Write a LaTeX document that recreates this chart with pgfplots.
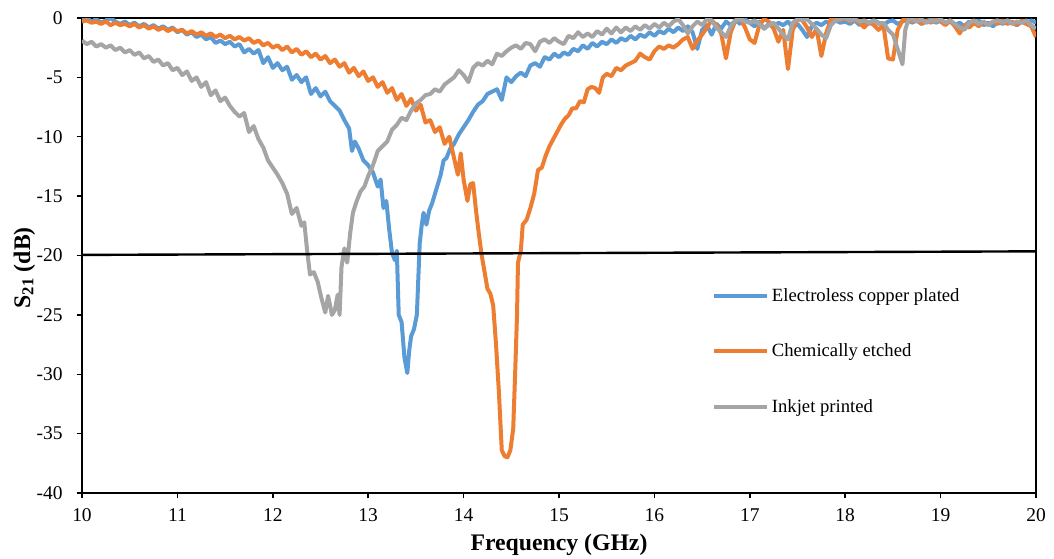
\documentclass[border=0pt]{standalone}
\usepackage{fontspec}
\setmainfont{Liberation Serif}
\usepackage{pgfplots}
\pgfplotsset{compat=1.18}
\definecolor{cblue}{HTML}{5B9BD5}
\definecolor{corange}{HTML}{ED7D31}
\definecolor{cgray}{HTML}{A5A5A5}
\begin{document}
\begin{tikzpicture}
\begin{axis}[
  anchor=south west, at={(0pt,0pt)},
  scale only axis,
  width=715.5pt, height=356.25pt,
  xmin=10, xmax=20, ymin=-40, ymax=0,
  xtick={10,11,...,20},
  xticklabels={10,11,12,13,14,15,16,17,18,19,20},
  ytick={-40,-35,...,0},
  yticklabels={-40,-35,-30,-25,-20,-15,-10,-5,0},
  xtick pos=bottom, ytick pos=left,
  tick align=outside,
  major tick length=4pt,
  tick style={black, line width=1.1pt},
  axis line style={black, line width=1.5pt},
  ticklabel style={font=\fontsize{14.6}{16}\selectfont},
  xticklabel style={yshift=-4pt},
  yticklabel style={xshift=-7pt},
  xlabel={\textbf{Frequency (GHz)}},
  ylabel={\textbf{S\textsubscript{21} (dB)}},
  label style={font=\fontsize{17.8}{20}\selectfont},
  xlabel style={at={(axis description cs:0.5,0)}, anchor=base, yshift=-42.75pt},
  ylabel style={at={(axis description cs:-0.0545,0.474)}, anchor=base},
  legend style={at={(0.66,0.437)}, anchor=north west, draw=none, fill=none,
    font=\fontsize{14}{16}\selectfont, row sep=26.4pt, inner sep=0pt},
  legend cell align=left,
  legend image code/.code={\draw[#1] (0pt,0pt) -- (40pt,0pt);},
  every axis plot/.append style={line width=3pt, line join=round},
]
\addplot[cblue] table {
10.00 -0.1
10.05 0.0
10.10 -0.3
10.15 -0.1
10.20 -0.4
10.25 -0.2
10.30 0.0
10.35 -0.3
10.40 -0.5
10.45 -0.3
10.50 -0.6
10.55 -0.4
10.60 -0.7
10.65 -0.5
10.70 -0.8
10.75 -0.6
10.80 -0.9
10.85 -0.7
10.90 -1.0
10.95 -0.8
11.00 -1.2
11.05 -1.0
11.10 -1.4
11.15 -1.2
11.20 -1.6
11.25 -1.4
11.30 -1.8
11.35 -1.6
11.40 -2.1
11.45 -1.9
11.50 -2.2
11.55 -2.0
11.60 -2.4
11.65 -2.2
11.70 -2.9
11.75 -2.6
11.80 -3.0
11.85 -2.7
11.90 -3.8
11.95 -3.3
12.00 -4.2
12.05 -3.8
12.10 -4.4
12.15 -4.1
12.20 -5.2
12.25 -4.8
12.30 -5.4
12.35 -5.0
12.40 -6.4
12.45 -5.9
12.50 -6.6
12.55 -6.2
12.60 -7.0
12.65 -7.4
12.70 -7.8
12.75 -8.6
12.80 -9.3
12.83 -11.2
12.86 -10.4
12.90 -11.0
12.95 -12.0
13.00 -12.4
13.05 -13.0
13.10 -14.2
13.13 -13.6
13.16 -16.0
13.19 -15.4
13.22 -17.8
13.25 -19.8
13.28 -20.4
13.30 -19.6
13.32 -25.0
13.35 -25.6
13.38 -28.6
13.41 -29.9
13.43 -28.0
13.45 -26.8
13.48 -26.2
13.51 -25.0
13.54 -19.0
13.56 -17.5
13.58 -16.4
13.61 -17.4
13.64 -16.2
13.67 -15.6
13.70 -14.8
13.73 -14.0
13.76 -13.2
13.79 -12.0
13.82 -11.8
13.86 -11.0
13.90 -10.6
13.95 -9.8
14.00 -9.2
14.05 -8.6
14.10 -7.9
14.15 -7.3
14.20 -7.0
14.25 -6.4
14.30 -6.2
14.35 -6.0
14.40 -6.9
14.45 -5.0
14.50 -5.4
14.55 -4.9
14.60 -4.6
14.65 -4.9
14.70 -4.0
14.75 -3.8
14.80 -4.1
14.85 -3.3
14.90 -3.5
14.95 -3.0
15.00 -3.3
15.05 -2.9
15.10 -3.1
15.15 -2.6
15.20 -2.8
15.25 -2.3
15.30 -2.6
15.35 -2.1
15.40 -2.4
15.45 -2.0
15.50 -2.2
15.55 -1.8
15.60 -2.1
15.65 -1.7
15.70 -1.9
15.75 -1.5
15.80 -1.8
15.85 -1.4
15.90 -1.6
15.95 -1.2
16.00 -1.5
16.05 -1.1
16.10 -1.3
16.15 -0.9
16.20 -1.2
16.25 -0.8
16.30 -1.1
16.35 -0.7
16.40 -1.2
16.45 -2.6
16.50 -1.0
16.55 -0.6
16.60 -1.4
16.65 -0.5
16.70 -0.9
16.75 -0.3
16.80 -0.6
16.85 -0.2
16.90 -0.5
16.95 -0.1
17.00 -0.4
17.05 -0.7
17.10 -0.3
17.15 -0.9
17.20 -0.5
17.25 -0.8
17.30 -0.4
17.35 -0.6
17.40 -0.3
17.45 -0.8
17.50 -0.5
17.55 -1.0
17.60 -1.6
17.65 -0.7
17.70 -0.4
17.75 -0.6
17.80 -0.3
17.85 -0.5
17.90 -0.2
17.95 -0.4
18.00 -0.3
18.05 -0.5
18.10 -0.2
18.15 -0.6
18.20 -0.3
18.25 -0.5
18.30 -0.2
18.35 -0.4
18.40 -0.6
18.45 -0.3
18.50 -0.2
18.55 -0.5
18.60 -0.3
18.65 -0.1
18.70 -0.4
18.75 -0.2
18.80 -0.5
18.85 -0.3
18.90 -0.1
18.95 -0.4
19.00 -0.2
19.05 -0.5
19.10 -0.3
19.15 -0.6
19.20 -0.4
19.25 -0.7
19.30 -0.3
19.35 -0.5
19.40 -0.2
19.45 -0.6
19.50 -0.4
19.55 -0.7
19.60 -0.3
19.65 -0.5
19.70 -0.2
19.75 -0.4
19.80 -0.6
19.85 -0.3
19.90 -0.5
19.95 -0.2
20.00 -0.4
};
\addlegendentry{Electroless copper plated}
\addplot[corange] table {
10.00 -0.3
10.05 -0.2
10.10 -0.4
10.15 -0.3
10.20 -0.5
10.25 -0.3
10.30 -0.6
10.35 -0.4
10.40 -0.6
10.45 -0.5
10.50 -0.7
10.55 -0.5
10.60 -0.8
10.65 -0.6
10.70 -0.9
10.75 -0.7
10.80 -1.0
10.85 -0.8
10.90 -1.1
10.95 -0.9
11.00 -1.1
11.05 -1.0
11.10 -1.3
11.15 -1.1
11.20 -1.4
11.25 -1.2
11.30 -1.5
11.35 -1.3
11.40 -1.6
11.45 -1.4
11.50 -1.7
11.55 -1.5
11.60 -1.8
11.65 -1.6
11.70 -1.9
11.75 -1.7
11.80 -2.1
11.85 -1.9
11.90 -2.3
11.95 -2.1
12.00 -2.5
12.05 -2.3
12.10 -2.7
12.15 -2.4
12.20 -2.9
12.25 -2.6
12.30 -3.1
12.35 -2.8
12.40 -3.3
12.45 -3.0
12.50 -3.5
12.55 -3.2
12.60 -3.8
12.65 -3.5
12.70 -4.1
12.75 -3.8
12.80 -4.6
12.85 -4.2
12.90 -4.9
12.95 -4.5
13.00 -5.3
13.05 -5.0
13.10 -5.8
13.15 -5.4
13.20 -6.3
13.25 -5.9
13.30 -6.9
13.35 -6.4
13.40 -7.4
13.45 -6.8
13.50 -7.8
13.55 -7.3
13.60 -8.8
13.65 -8.6
13.70 -9.6
13.75 -9.2
13.80 -10.6
13.85 -10.0
13.90 -11.8
13.94 -13.2
13.97 -11.4
14.00 -13.6
14.04 -15.4
14.07 -14.0
14.10 -13.9
14.13 -16.2
14.16 -18.2
14.19 -20.0
14.22 -21.4
14.25 -22.8
14.28 -23.2
14.31 -24.2
14.34 -27.5
14.37 -31.5
14.40 -36.4
14.43 -36.9
14.46 -37.0
14.49 -36.4
14.52 -34.6
14.54 -30.0
14.56 -25.0
14.57 -20.6
14.60 -19.6
14.62 -17.4
14.66 -17.0
14.70 -16.0
14.74 -14.8
14.78 -12.8
14.82 -12.6
14.86 -11.6
14.90 -10.8
14.94 -10.2
14.98 -9.6
15.02 -9.0
15.06 -8.5
15.10 -8.2
15.14 -7.6
15.18 -7.6
15.22 -7.0
15.26 -7.1
15.30 -6.0
15.34 -5.8
15.38 -5.9
15.42 -6.3
15.46 -5.0
15.50 -4.7
15.55 -4.9
15.60 -4.2
15.65 -4.4
15.70 -4.0
15.75 -3.8
15.80 -3.6
15.85 -3.0
15.90 -3.3
15.95 -3.5
16.00 -2.8
16.05 -2.4
16.10 -2.6
16.15 -2.3
16.20 -2.5
16.25 -2.2
16.30 -1.8
16.35 -1.6
16.40 -2.6
16.45 -1.9
16.50 -1.4
16.55 -0.8
16.60 -0.2
16.65 -0.6
16.70 -1.3
16.75 -3.4
16.80 -1.2
16.85 -0.2
16.90 0.0
16.95 -0.8
17.00 -1.8
17.05 -2.1
17.10 -0.6
17.15 -0.1
17.20 -0.3
17.25 -0.9
17.30 -2.0
17.35 -1.0
17.40 -4.3
17.45 -1.0
17.50 -0.1
17.55 -0.2
17.60 -0.8
17.65 -1.6
17.70 -0.9
17.75 -3.2
17.80 -1.3
17.85 -0.1
17.90 0.0
17.95 -0.2
18.00 0.0
18.05 -0.3
18.10 -0.1
18.15 -0.4
18.20 -0.8
18.25 -0.3
18.30 -0.6
18.35 -1.0
18.40 -0.6
18.45 -3.4
18.50 -3.5
18.55 -1.0
18.60 -0.2
18.65 0.0
18.70 -0.3
18.75 -0.1
18.80 -0.5
18.85 -0.2
18.90 -0.4
18.95 -0.1
19.00 -0.3
19.05 -0.6
19.10 -0.2
19.15 -0.7
19.20 -1.3
19.25 -0.6
19.30 -0.8
19.35 -0.4
19.40 -0.7
19.45 -0.3
19.50 -0.6
19.55 -0.3
19.60 -0.5
19.65 -0.2
19.70 -0.5
19.75 -0.3
19.80 -0.6
19.85 -0.2
19.90 -0.5
19.95 -0.7
20.00 -1.6
};
\addlegendentry{Chemically etched}
\addplot[cgray] table {
10.00 -1.9
10.05 -2.2
10.10 -2.0
10.15 -2.4
10.20 -2.2
10.25 -2.5
10.30 -2.3
10.35 -2.7
10.40 -2.5
10.45 -2.9
10.50 -2.7
10.55 -3.1
10.60 -2.9
10.65 -3.4
10.70 -3.2
10.75 -3.7
10.80 -3.5
10.85 -4.0
10.90 -3.8
10.95 -4.4
11.00 -4.2
11.05 -4.8
11.10 -4.5
11.15 -5.3
11.20 -5.0
11.25 -5.8
11.30 -5.4
11.35 -6.5
11.40 -6.1
11.45 -7.0
11.50 -6.7
11.55 -7.4
11.60 -7.9
11.65 -8.3
11.70 -8.0
11.75 -9.6
11.80 -9.1
11.85 -10.2
11.90 -10.9
11.95 -12.0
12.00 -12.6
12.05 -13.2
12.10 -13.9
12.15 -14.8
12.20 -16.5
12.25 -16.0
12.30 -17.5
12.33 -17.2
12.36 -19.6
12.39 -21.6
12.43 -21.4
12.47 -22.2
12.51 -23.6
12.55 -24.8
12.58 -23.4
12.62 -25.0
12.65 -24.6
12.68 -23.3
12.70 -25.0
12.72 -21.0
12.75 -19.4
12.78 -20.6
12.81 -18.2
12.84 -16.4
12.88 -15.4
12.92 -14.6
12.96 -14.2
13.00 -13.3
13.05 -12.4
13.10 -11.2
13.15 -10.8
13.20 -10.4
13.25 -9.4
13.30 -9.0
13.35 -8.4
13.40 -8.6
13.45 -7.8
13.50 -7.2
13.55 -6.9
13.60 -6.5
13.65 -6.4
13.70 -6.0
13.75 -6.2
13.80 -5.6
13.85 -5.3
13.90 -5.0
13.95 -4.4
14.00 -4.8
14.05 -5.4
14.10 -4.2
14.15 -3.8
14.20 -4.0
14.25 -3.6
14.30 -3.9
14.35 -3.0
14.40 -3.2
14.45 -2.8
14.50 -2.5
14.55 -2.3
14.60 -2.6
14.65 -2.1
14.70 -2.2
14.75 -2.8
14.80 -2.0
14.85 -1.8
14.90 -2.1
14.95 -1.7
15.00 -2.0
15.05 -2.2
15.10 -1.5
15.15 -1.7
15.20 -1.2
15.25 -1.6
15.30 -1.3
15.35 -1.6
15.40 -1.1
15.45 -1.4
15.50 -0.9
15.55 -1.3
15.60 -0.8
15.65 -1.2
15.70 -0.8
15.75 -1.1
15.80 -0.7
15.85 -1.0
15.90 -0.6
15.95 -0.9
16.00 -0.5
16.05 -0.8
16.10 -0.4
16.15 -0.7
16.20 -0.3
16.25 -0.1
16.30 -0.6
16.35 -1.3
16.40 -0.7
16.45 -0.3
16.50 -0.6
16.55 -0.1
16.60 -0.2
16.65 -0.8
16.70 -1.2
16.75 -1.6
16.80 -0.7
16.85 -0.2
16.90 -0.1
16.95 -0.3
17.00 -0.4
17.05 -0.2
17.10 -0.5
17.15 -0.9
17.20 -0.6
17.25 -0.4
17.30 -0.9
17.35 -1.4
17.40 -1.8
17.45 -0.4
17.50 -0.1
17.55 -0.2
17.60 -0.1
17.65 -0.5
17.70 -0.9
17.75 -1.4
17.80 -1.7
17.85 -0.6
17.90 -0.2
17.95 -0.1
18.00 0.0
18.05 -0.2
18.10 -0.1
18.15 -0.3
18.20 -0.2
18.25 -0.4
18.30 -0.2
18.35 -0.5
18.40 -0.4
18.45 -1.0
18.50 -1.4
18.55 -2.6
18.60 -3.9
18.63 -1.0
18.66 -0.2
18.70 -0.1
18.75 -0.3
18.80 -0.1
18.85 -0.4
18.90 -0.2
18.95 -0.3
19.00 -0.1
19.05 -0.4
19.10 -0.2
19.15 -0.5
19.20 -0.8
19.25 -1.0
19.30 -0.4
19.35 -0.2
19.40 -0.5
19.45 -0.3
19.50 -0.6
19.55 -0.3
19.60 -0.2
19.65 -0.4
19.70 -0.2
19.75 -0.5
19.80 -0.3
19.85 -0.4
19.90 -0.2
19.95 -0.6
20.00 -0.9
};
\addlegendentry{Inkjet printed}
\addplot[black, line width=1.8pt, forget plot] coordinates {(10,-19.95) (20,-19.65)};
\end{axis}
\pgfresetboundingbox
\path (-61.5pt,-48.75pt) rectangle (729pt,369.75pt);
\end{tikzpicture}
\end{document}
